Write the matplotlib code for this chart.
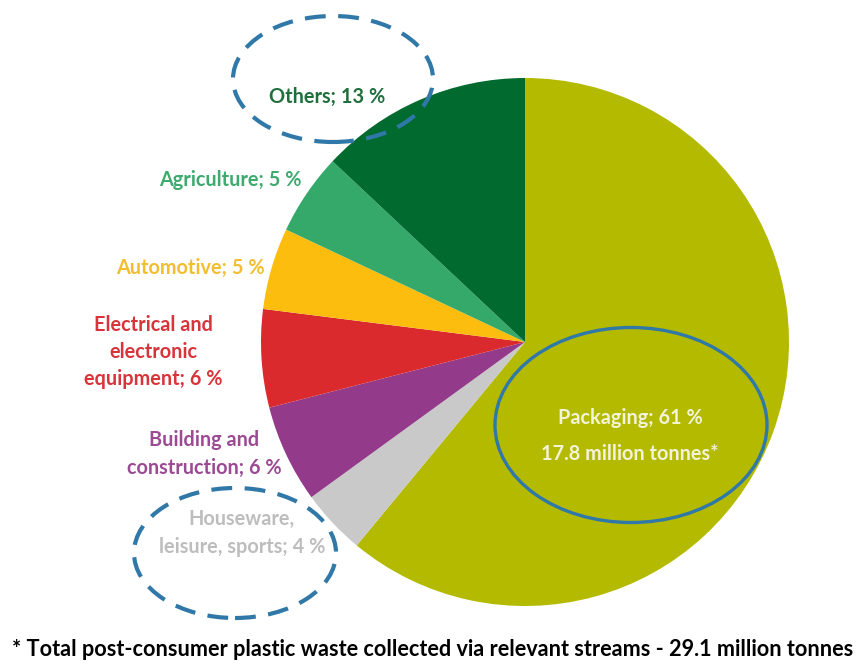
import matplotlib
matplotlib.use("Agg")
import matplotlib.pyplot as plt
from matplotlib.patches import Ellipse

# Plastic waste by sector (share of collected post-consumer waste, %)
sectors = ["Packaging", "Houseware,\nleisure, sports", "Building and\nconstruction",
           "Electrical and\nelectronic\nequipment", "Automotive", "Agriculture", "Others"]
shares = [61, 4, 6, 6, 5, 5, 13]
colors = ["#B3BA00", "#C9C9C9", "#933A8A", "#DB2A2E", "#FDBD0F", "#35A96A", "#006A2F"]
label_colors = ["#F3F3DA", "#BDBDBD", "#9B4A93", "#D8343B", "#F2BE2E", "#3DAA6E", "#1F6E3C"]
packaging_tonnes = 17.8
total_tonnes = 29.1

W, H = 866, 664
fig = plt.figure(figsize=(W / 100, H / 100), dpi=100)
ax = fig.add_axes([0, 0, 1, 1])

cx, cy, r = 525, H - 342, 264
ax.pie(shares, colors=colors, startangle=90, counterclock=False,
       center=(cx, cy), radius=r, frame=True,
       wedgeprops=dict(linewidth=0))
ax.set_xlim(0, W)
ax.set_ylim(0, H)
ax.set_aspect("equal")
ax.axis("off")

font = "Lato"
fs = 14.3

def y(v):
    return H - v

# Sector labels
label_pos = {
    "Others": (327, 97),
    "Agriculture": (230, 180),
    "Automotive": (190, 268),
    "Electrical and\nelectronic\nequipment": (153, 352),
    "Building and\nconstruction": (204, 454),
    "Houseware,\nleisure, sports": (242, 533),
}
for name, share, lc in zip(sectors, shares, label_colors):
    if name == "Packaging":
        continue
    px, py = label_pos[name]
    ax.text(px, y(py), f"{name}; {share} %", color=lc, fontsize=fs,
            fontweight="bold", family=font, ha="center", va="center",
            linespacing=1.45)

# Packaging label inside the slice
ax.text(630, y(436), f"Packaging; {shares[0]} %\n{packaging_tonnes} million tonnes*",
        color=label_colors[0], fontsize=fs, fontweight="bold", family=font,
        ha="center", va="center", linespacing=2.0)

# Highlight rings
ax.add_patch(Ellipse((631, y(425)), 272, 195, fill=False, edgecolor="#2F78A8",
                     linewidth=2.4))
ax.add_patch(Ellipse((333, y(79)), 200, 126, fill=False, edgecolor="#2F78A8",
                     linewidth=3, linestyle=(0, (5, 3))))
ax.add_patch(Ellipse((235, y(553)), 202, 130, fill=False, edgecolor="#2F78A8",
                     linewidth=3, linestyle=(0, (5, 3))))

# Footnote
ax.text(433, y(650), f"* Total post-consumer plastic waste collected via relevant streams - {total_tonnes} million tonnes",
        color="black", fontsize=15.6, fontweight="bold", family=font,
        ha="center", va="center")

fig.savefig("out.png", dpi=100)
